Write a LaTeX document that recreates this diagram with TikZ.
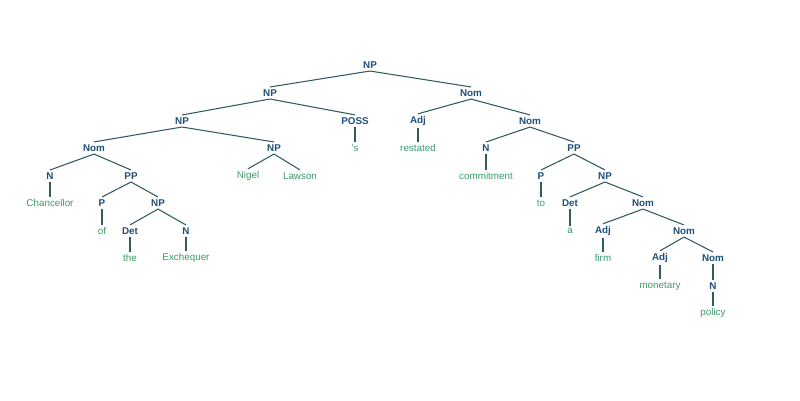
\documentclass[tikz,border=0pt]{standalone}
\usepackage{fontspec}
\setmainfont{Liberation Sans}
\definecolor{catblue}{HTML}{1F4E79}
\definecolor{wordgreen}{HTML}{3A9A6A}
\definecolor{branch}{HTML}{2F5A5F}
\begin{document}
\begin{tikzpicture}[x=0.02cm, y=-0.02cm, semithick,
    cat/.style={text=catblue, font=\fontsize{5.6}{6}\selectfont\bfseries, inner sep=1.2pt},
    word/.style={text=wordgreen, font=\fontsize{5.6}{6}\selectfont, inner sep=1.2pt}]
    \useasboundingbox (0,0) rectangle (800,400);
    % categories
    \node[cat]  (np0)  at (370,65)  {NP};
    \node[cat]  (np1)  at (270,93)  {NP};
    \node[cat]  (nom0) at (471,93)  {Nom};
    \node[cat]  (np2)  at (182,121) {NP};
    \node[cat]  (poss) at (355,121) {POSS};
    \node[cat]  (adj0) at (418,121) {Adj};
    \node[cat]  (nom2) at (530,121) {Nom};
    \node[cat]  (nom1) at (94,148)  {Nom};
    \node[cat]  (np3)  at (274,148) {NP};
    \node[cat]  (n3)   at (486,148) {N};
    \node[cat]  (pp2)  at (574,148) {PP};
    \node[cat]  (n1)   at (50,176)  {N};
    \node[cat]  (pp1)  at (131,176) {PP};
    \node[cat]  (p2)   at (541,176) {P};
    \node[cat]  (np5)  at (605,176) {NP};
    \node[cat]  (p1)   at (102,203) {P};
    \node[cat]  (np4)  at (158,203) {NP};
    \node[cat]  (det2) at (570,203) {Det};
    \node[cat]  (nom3) at (643,203) {Nom};
    \node[cat]  (det1) at (130,231) {Det};
    \node[cat]  (n2)   at (186,231) {N};
    \node[cat]  (adj1) at (603,231) {Adj};
    \node[cat]  (nom4) at (684,231) {Nom};
    \node[cat]  (adj2) at (660,258) {Adj};
    \node[cat]  (nom5) at (713,258) {Nom};
    \node[cat]  (n4)   at (713,286) {N};
    % words
    \node[word] (wposs)  at (355,148) {'s};
    \node[word] (wrest)  at (418,148) {restated};
    \node[word] (wnigel) at (248,176) {Nigel};
    \node[word] (wlaw)   at (300,176) {Lawson};
    \node[word] (wcomm)  at (486,176) {commitment};
    \node[word] (wchan)  at (50,203)  {Chancellor};
    \node[word] (wto)    at (541,203) {to};
    \node[word] (wof)    at (102,231) {of};
    \node[word] (wa)     at (570,231) {a};
    \node[word] (wthe)   at (130,258) {the};
    \node[word] (wexch)  at (186,258) {Exchequer};
    \node[word] (wfirm)  at (603,258) {firm};
    \node[word] (wmon)   at (660,286) {monetary};
    \node[word] (wpol)   at (713,313) {policy};
    % branches
    \foreach \a/\b in {np0/np1, np0/nom0, np1/np2, np1/poss, nom0/adj0, nom0/nom2,
        np2/nom1, np2/np3, nom2/n3, nom2/pp2, nom1/n1, nom1/pp1, pp2/p2, pp2/np5,
        pp1/p1, pp1/np4, np5/det2, np5/nom3, np4/det1, np4/n2, nom3/adj1, nom3/nom4,
        nom4/adj2, nom4/nom5, nom5/n4, poss/wposs, adj0/wrest, np3/wnigel, np3/wlaw,
        n3/wcomm, n1/wchan, p2/wto, p1/wof, det2/wa, det1/wthe, n2/wexch,
        adj1/wfirm, adj2/wmon, n4/wpol}
        \draw[branch] (\a.south) -- (\b.north);
\end{tikzpicture}
\end{document}
